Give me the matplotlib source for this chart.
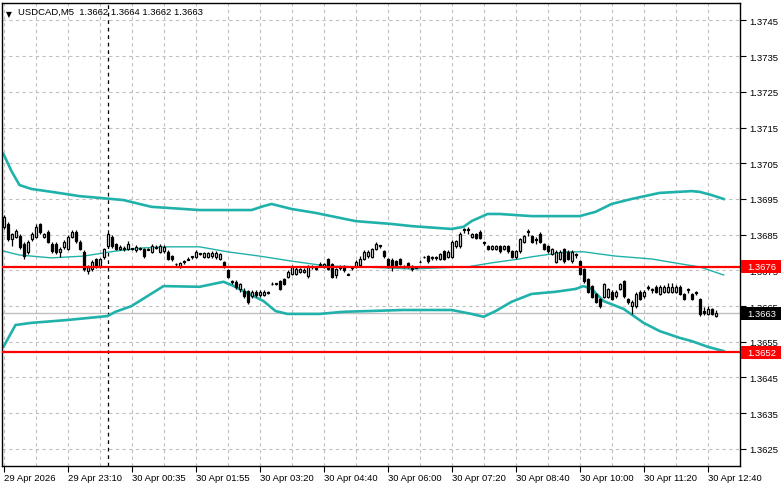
import numpy as np
import matplotlib
matplotlib.use("Agg")
import matplotlib.pyplot as plt
from matplotlib.patches import Rectangle
from matplotlib.transforms import blended_transform_factory

plt.rcParams['font.family'] = ['Liberation Sans', 'DejaVu Sans']

# ---- candle data (USDCAD M5) ----
opens = [1.36872, 1.36880, 1.36838, 1.36844, 1.36846, 1.36824, 1.36802, 1.36838, 1.36844, 1.36880,
         1.36844, 1.36858, 1.36824, 1.36824, 1.36802, 1.36816, 1.36810, 1.36844, 1.36858, 1.36830,
         1.36802, 1.36748, 1.36754, 1.36782, 1.36762, 1.36788, 1.36818, 1.36844, 1.36824, 1.36810,
         1.36810, 1.36810, 1.36812, 1.36806, 1.36812, 1.36810, 1.36808, 1.36802, 1.36816, 1.36802,
         1.36804, 1.36802, 1.36790, 1.36768, 1.36760, 1.36776, 1.36780, 1.36790, 1.36788, 1.36798,
         1.36788, 1.36788, 1.36790, 1.36788, 1.36782, 1.36774, 1.36750, 1.36720, 1.36718, 1.36698,
         1.36692, 1.36692, 1.36678, 1.36690, 1.36680, 1.36682, 1.36690, 1.36712, 1.36712, 1.36720,
         1.36726, 1.36732, 1.36740, 1.36740, 1.36746, 1.36746, 1.36734, 1.36762, 1.36756, 1.36766,
         1.36760, 1.36782, 1.36768, 1.36736, 1.36760, 1.36762, 1.36740, 1.36760, 1.36762, 1.36764,
         1.36782, 1.36790, 1.36788, 1.36810, 1.36820, 1.36804, 1.36782, 1.36780, 1.36776, 1.36782,
         1.36762, 1.36770, 1.36762, 1.36760, 1.36774, 1.36788, 1.36790, 1.36788, 1.36788, 1.36782,
         1.36804, 1.36788, 1.36788, 1.36818, 1.36818, 1.36866, 1.36866, 1.36844, 1.36852, 1.36858,
         1.36830, 1.36818, 1.36810, 1.36810, 1.36818, 1.36810, 1.36818, 1.36804, 1.36788, 1.36804,
         1.36830, 1.36860, 1.36846, 1.36838, 1.36852, 1.36824, 1.36818, 1.36796, 1.36774, 1.36782,
         1.36810, 1.36802, 1.36776, 1.36796, 1.36776, 1.36754, 1.36726, 1.36706, 1.36684, 1.36670,
         1.36676, 1.36676, 1.36690, 1.36678, 1.36698, 1.36720, 1.36670, 1.36650, 1.36650, 1.36690,
         1.36678, 1.36704, 1.36698, 1.36704, 1.36684, 1.36690, 1.36690, 1.36690, 1.36690, 1.36704,
         1.36684, 1.36698, 1.36684, 1.36690, 1.36670, 1.36636, 1.36628, 1.36642, 1.36622]
highs = [1.36906, 1.36886, 1.36856, 1.36866, 1.36852, 1.36830, 1.36836, 1.36858, 1.36880, 1.36884,
         1.36856, 1.36862, 1.36830, 1.36830, 1.36816, 1.36834, 1.36850, 1.36864, 1.36864, 1.36834,
         1.36806, 1.36764, 1.36780, 1.36786, 1.36786, 1.36814, 1.36856, 1.36850, 1.36828, 1.36820,
         1.36818, 1.36832, 1.36814, 1.36820, 1.36816, 1.36814, 1.36812, 1.36824, 1.36820, 1.36824,
         1.36820, 1.36806, 1.36794, 1.36770, 1.36774, 1.36778, 1.36788, 1.36790, 1.36808, 1.36800,
         1.36802, 1.36802, 1.36804, 1.36804, 1.36800, 1.36776, 1.36754, 1.36722, 1.36724, 1.36716,
         1.36700, 1.36696, 1.36696, 1.36694, 1.36694, 1.36694, 1.36692, 1.36718, 1.36716, 1.36724,
         1.36730, 1.36750, 1.36766, 1.36760, 1.36758, 1.36758, 1.36766, 1.36764, 1.36758, 1.36774,
         1.36772, 1.36786, 1.36772, 1.36758, 1.36766, 1.36766, 1.36742, 1.36762, 1.36778, 1.36790,
         1.36806, 1.36806, 1.36814, 1.36830, 1.36822, 1.36808, 1.36786, 1.36784, 1.36780, 1.36786,
         1.36766, 1.36774, 1.36766, 1.36762, 1.36780, 1.36790, 1.36794, 1.36790, 1.36790, 1.36800,
         1.36808, 1.36806, 1.36834, 1.36836, 1.36858, 1.36868, 1.36872, 1.36856, 1.36856, 1.36862,
         1.36832, 1.36820, 1.36820, 1.36820, 1.36822, 1.36822, 1.36822, 1.36808, 1.36808, 1.36842,
         1.36850, 1.36866, 1.36850, 1.36844, 1.36858, 1.36828, 1.36822, 1.36814, 1.36808, 1.36806,
         1.36814, 1.36806, 1.36806, 1.36798, 1.36780, 1.36758, 1.36730, 1.36710, 1.36688, 1.36674,
         1.36716, 1.36702, 1.36694, 1.36694, 1.36716, 1.36724, 1.36674, 1.36666, 1.36690, 1.36694,
         1.36694, 1.36708, 1.36702, 1.36708, 1.36708, 1.36710, 1.36714, 1.36714, 1.36708, 1.36710,
         1.36688, 1.36700, 1.36688, 1.36692, 1.36674, 1.36648, 1.36650, 1.36646, 1.36638]
lows = [1.36866, 1.36832, 1.36818, 1.36840, 1.36810, 1.36782, 1.36796, 1.36832, 1.36840, 1.36852,
        1.36840, 1.36826, 1.36798, 1.36796, 1.36788, 1.36810, 1.36806, 1.36840, 1.36828, 1.36806,
        1.36748, 1.36740, 1.36748, 1.36756, 1.36756, 1.36782, 1.36812, 1.36812, 1.36806, 1.36806,
        1.36804, 1.36806, 1.36806, 1.36802, 1.36806, 1.36786, 1.36806, 1.36798, 1.36810, 1.36798,
        1.36800, 1.36778, 1.36776, 1.36760, 1.36756, 1.36768, 1.36780, 1.36782, 1.36784, 1.36792,
        1.36784, 1.36786, 1.36786, 1.36782, 1.36778, 1.36758, 1.36728, 1.36712, 1.36698, 1.36690,
        1.36674, 1.36656, 1.36672, 1.36676, 1.36676, 1.36678, 1.36684, 1.36710, 1.36710, 1.36694,
        1.36708, 1.36728, 1.36736, 1.36738, 1.36742, 1.36742, 1.36730, 1.36754, 1.36750, 1.36766,
        1.36756, 1.36750, 1.36728, 1.36730, 1.36752, 1.36746, 1.36736, 1.36752, 1.36758, 1.36760,
        1.36778, 1.36786, 1.36784, 1.36806, 1.36812, 1.36786, 1.36758, 1.36748, 1.36760, 1.36764,
        1.36758, 1.36756, 1.36748, 1.36756, 1.36774, 1.36786, 1.36772, 1.36780, 1.36780, 1.36778,
        1.36778, 1.36784, 1.36784, 1.36814, 1.36812, 1.36856, 1.36852, 1.36840, 1.36838, 1.36838,
        1.36822, 1.36806, 1.36806, 1.36806, 1.36800, 1.36806, 1.36800, 1.36784, 1.36782, 1.36800,
        1.36826, 1.36846, 1.36826, 1.36824, 1.36826, 1.36806, 1.36800, 1.36792, 1.36770, 1.36778,
        1.36772, 1.36778, 1.36772, 1.36786, 1.36736, 1.36716, 1.36686, 1.36672, 1.36658, 1.36646,
        1.36672, 1.36672, 1.36666, 1.36674, 1.36694, 1.36674, 1.36656, 1.36628, 1.36646, 1.36666,
        1.36674, 1.36694, 1.36688, 1.36686, 1.36680, 1.36686, 1.36686, 1.36686, 1.36686, 1.36680,
        1.36666, 1.36688, 1.36666, 1.36682, 1.36622, 1.36626, 1.36624, 1.36624, 1.36618]
closes = [1.36900, 1.36838, 1.36852, 1.36860, 1.36816, 1.36790, 1.36830, 1.36852, 1.36872, 1.36858,
          1.36852, 1.36830, 1.36804, 1.36802, 1.36810, 1.36830, 1.36844, 1.36858, 1.36832, 1.36810,
          1.36754, 1.36760, 1.36774, 1.36760, 1.36782, 1.36810, 1.36852, 1.36818, 1.36810, 1.36816,
          1.36812, 1.36824, 1.36810, 1.36816, 1.36810, 1.36790, 1.36810, 1.36818, 1.36814, 1.36818,
          1.36816, 1.36782, 1.36782, 1.36768, 1.36770, 1.36774, 1.36782, 1.36788, 1.36802, 1.36796,
          1.36798, 1.36798, 1.36800, 1.36800, 1.36796, 1.36762, 1.36732, 1.36718, 1.36704, 1.36712,
          1.36678, 1.36662, 1.36690, 1.36680, 1.36690, 1.36690, 1.36688, 1.36712, 1.36714, 1.36698,
          1.36712, 1.36746, 1.36760, 1.36754, 1.36754, 1.36752, 1.36762, 1.36760, 1.36754, 1.36768,
          1.36768, 1.36754, 1.36732, 1.36754, 1.36758, 1.36750, 1.36738, 1.36758, 1.36774, 1.36782,
          1.36802, 1.36802, 1.36810, 1.36824, 1.36818, 1.36790, 1.36762, 1.36762, 1.36764, 1.36768,
          1.36762, 1.36760, 1.36754, 1.36758, 1.36774, 1.36788, 1.36776, 1.36786, 1.36786, 1.36796,
          1.36782, 1.36802, 1.36830, 1.36832, 1.36852, 1.36864, 1.36862, 1.36852, 1.36842, 1.36842,
          1.36828, 1.36810, 1.36818, 1.36818, 1.36804, 1.36818, 1.36804, 1.36788, 1.36804, 1.36838,
          1.36846, 1.36858, 1.36830, 1.36836, 1.36830, 1.36810, 1.36804, 1.36810, 1.36802, 1.36802,
          1.36776, 1.36782, 1.36802, 1.36794, 1.36740, 1.36720, 1.36690, 1.36676, 1.36662, 1.36650,
          1.36712, 1.36698, 1.36670, 1.36690, 1.36712, 1.36678, 1.36662, 1.36662, 1.36684, 1.36670,
          1.36690, 1.36702, 1.36696, 1.36690, 1.36704, 1.36704, 1.36704, 1.36704, 1.36704, 1.36684,
          1.36670, 1.36696, 1.36670, 1.36688, 1.36628, 1.36630, 1.36642, 1.36628, 1.36630]

# ---- Bollinger bands, sampled at bar indices ----
upper_idx = [0, 2, 4, 7, 12, 19, 24, 30, 34, 37, 49, 62, 65, 67, 72, 78, 88, 97, 102, 112,
             115, 117, 121, 124, 132, 144, 148, 152, 157, 164, 172, 174, 177, 180]
upper = [1.37076, 1.37028, 1.36989, 1.36978, 1.36970, 1.36958, 1.36953, 1.36947, 1.36936, 1.36928,
         1.36919, 1.36919, 1.36930, 1.36936, 1.36922, 1.36911, 1.36888, 1.36880, 1.36874, 1.36866,
         1.36872, 1.36888, 1.36908, 1.36908, 1.36902, 1.36902, 1.36914, 1.36936, 1.36950, 1.36967,
         1.36972, 1.36970, 1.36961, 1.36950]
middle_idx = [0, 4, 12, 20, 28, 35, 41, 49, 56, 64, 72, 81, 89, 102, 116, 122, 129, 132, 141,
              145, 153, 162, 171, 174, 180]
middle = [1.36804, 1.36793, 1.36785, 1.36790, 1.36804, 1.36813, 1.36816, 1.36816, 1.36802, 1.36790,
          1.36776, 1.36762, 1.36760, 1.36754, 1.36760, 1.36771, 1.36782, 1.36788, 1.36802, 1.36802,
          1.36790, 1.36782, 1.36765, 1.36760, 1.36737]
lower_idx = [0, 3, 7, 16, 26, 28, 32, 36, 40, 49, 55, 57, 60, 65, 68, 71, 79, 85, 100, 112,
             117, 120, 123, 127, 132, 138, 143, 145, 147, 150, 155, 160, 164, 169, 172, 176, 180]
lower = [1.36536, 1.36597, 1.36603, 1.36611, 1.36622, 1.36634, 1.36650, 1.36678, 1.36706, 1.36704,
         1.36718, 1.36709, 1.36692, 1.36664, 1.36636, 1.36628, 1.36628, 1.36634, 1.36639, 1.36639,
         1.36628, 1.36620, 1.36636, 1.36662, 1.36684, 1.36690, 1.36698, 1.36706, 1.36698, 1.36664,
         1.36642, 1.36603, 1.36580, 1.36561, 1.36552, 1.36536, 1.36524]

levels = [1.3676, 1.3652]
last_price = 1.3663
separator_bar = 26

tick_bars = [0, 16, 32, 48, 64, 80, 96, 112, 128, 144, 160, 176]
tick_labels = ["29 Apr 2026", "29 Apr 23:10", "30 Apr 00:35", "30 Apr 01:55", "30 Apr 03:20",
               "30 Apr 04:40", "30 Apr 06:00", "30 Apr 07:20", "30 Apr 08:40", "30 Apr 10:00",
               "30 Apr 11:20", "30 Apr 12:40"]
price_ticks = [1.3625, 1.3635, 1.3645, 1.3655, 1.3665, 1.3675, 1.3685, 1.3695,
               1.3705, 1.3715, 1.3725, 1.3735, 1.3745]

W, H = 781, 489
fig = plt.figure(figsize=(W / 100, H / 100), dpi=100)
ax = fig.add_axes([2 / W, (H - 467) / H, 738 / W, 463 / H])

o = np.array(opens)
hi = np.array(highs)
lo = np.array(lows)
c = np.array(closes)
x = np.arange(len(o))

teal = '#20b2aa'
ax.plot(upper_idx, upper, color=teal, lw=1.9, zorder=2)
ax.plot(middle_idx, middle, color=teal, lw=1, zorder=2)
ax.plot(lower_idx, lower, color=teal, lw=1.9, zorder=2)

# candles
ax.vlines(x, lo, hi, color='black', lw=0.9, zorder=3)
up = c >= o
body_lo = np.minimum(o, c)
body_h = np.abs(c - o)
ax.bar(x[up], body_h[up], bottom=body_lo[up], width=0.5, color='white',
       edgecolor='black', lw=0.9, zorder=4)
ax.bar(x[~up], body_h[~up], bottom=body_lo[~up], width=0.5, color='black',
       edgecolor='black', lw=0.9, zorder=4)

# horizontal levels
for lv in levels:
    ax.axhline(lv, color='#ff0000', lw=1.6, zorder=5)
ax.axhline(last_price, color='#c0c0c0', lw=1, zorder=1)
ax.axvline(separator_bar, color='black', lw=0.9, ls=(0, (3, 3)), zorder=1)

ax.set_xlim(-0.375, 184.1)
ax.set_ylim(1.36202, 1.37499)

# grid
ax.set_xticks(tick_bars)
ax.set_xticks(np.arange(8, 184, 16), minor=True)
ax.set_xticklabels(tick_labels)
ax.set_yticks(price_ticks)
ax.set_yticklabels(['%.4f' % p for p in price_ticks])
ax.grid(True, which='both', color='#c0c0c0', ls=(0, (3, 3)), lw=0.8)
ax.set_axisbelow(True)

ax.yaxis.tick_right()
ax.tick_params(axis='y', which='major', length=4, width=0.8, pad=3, labelsize=6.8)
ax.tick_params(axis='x', which='major', length=4, width=0.8, pad=1, labelsize=6.8)
ax.tick_params(axis='x', which='minor', length=0)
for lab in ax.get_xticklabels():
    lab.set_ha('left')
for sp in ax.spines.values():
    sp.set_color('black')
    sp.set_linewidth(1)

# right-side price boxes
tr = blended_transform_factory(ax.transAxes, ax.transData)
box_w = 40 / 738
box_h = 13 / 463 * (1.37499 - 1.36202)
for lv, fc in [(levels[0], '#ff0000'), (levels[1], '#ff0000'), (last_price, 'black')]:
    ax.add_patch(Rectangle((1.0015, lv - box_h / 2), box_w, box_h, transform=tr,
                           facecolor=fc, edgecolor='none', clip_on=False, zorder=9))
    ax.text(1.0095, lv, '%.4f' % lv, transform=tr, ha='left', va='center', color='white',
            fontsize=6.8, zorder=10, clip_on=False)

# title
ax.text(0.006, 0.988, '\u25bc', transform=ax.transAxes, ha='left', va='top', fontsize=5.5,
        family=['DejaVu Sans'])
ax.text(0.022, 0.992, 'USDCAD,M5  1.3662 1.3664 1.3662 1.3663', transform=ax.transAxes,
        ha='left', va='top', fontsize=6.8)

fig.savefig('out.png', dpi=100)
